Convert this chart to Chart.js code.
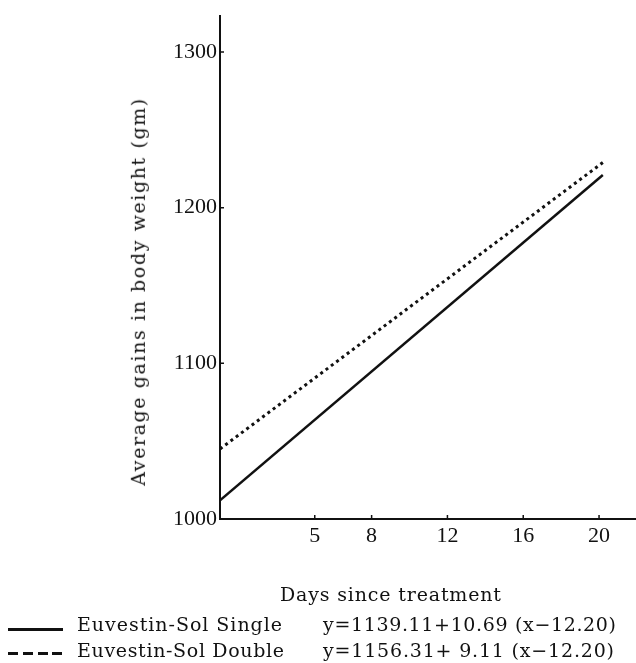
<!DOCTYPE html>
<html><head><meta charset="utf-8">
<script src="https://cdn.jsdelivr.net/npm/chart.js@4"></script>
<style>
body{margin:0;background:#fff}
#wrap{position:relative;width:636px;height:663px}
canvas{position:absolute;left:0;top:0}
.t{position:absolute;font-family:"DejaVu Serif",serif;font-size:19px;color:#111;white-space:nowrap;line-height:1}
.mk{position:absolute;height:3px}
</style></head><body>
<div id="wrap">
<canvas id="c" width="636" height="663"></canvas>
<div class="t" id="yt">Average gains in body weight (gm)</div>
<div class="t" id="xt">Days since treatment</div>
<div class="mk" style="left:8px;top:628px;width:55px;background:#111"></div>
<div class="mk" style="left:8px;top:652px;width:55px;background:repeating-linear-gradient(to right,#111 0 10px,transparent 10px 14.8px)"></div>
<div class="t" id="n1">Euvestin-Sol Single</div>
<div class="t" id="e1">y=1139.11+10.69 (x−12.20)</div>
<div class="t" id="n2">Euvestin-Sol Double</div>
<div class="t" id="e2">y=1156.31+ 9.11 (x−12.20)</div>
</div>
<script>
const xTicks = [5, 8, 12, 16, 20];
const yTicks = [1000, 1100, 1200, 1300];
const days = [0, 20.2];
const singleVals = [1012, 1221];
const doubleVals = [1045, 1229];

const TFONT = '"DejaVu Serif", serif';
const FONT = '"Liberation Serif", serif';
const mctx = document.createElement('canvas').getContext('2d');
function fit(id, size, x0, x1, midY, rotate) {
  const el = document.getElementById(id);
  el.style.fontSize = size + 'px';
  mctx.font = size + 'px ' + TFONT;
  const txt = el.textContent;
  const w = mctx.measureText(txt).width;
  const target = x1 - x0;
  const ls = (target - w) / (txt.length - 1);
  el.style.letterSpacing = ls + 'px';
  const h = size;
  if (!rotate) {
    el.style.left = x0 + 'px';
    el.style.top = (midY - h * 0.55) + 'px';
  } else {
    const cx = midY, cy = (x0 + x1) / 2;
    const fullW = w + ls * txt.length;
    el.style.left = (cx - fullW / 2) + 'px';
    el.style.top = (cy - h * 0.55) + 'px';
    el.style.transformOrigin = (fullW / 2) + 'px ' + (h * 0.55) + 'px';
    el.style.transform = 'rotate(-90deg)';
  }
}
fit('xt', 19, 280, 501, 595);
fit('n1', 19, 77, 282, 625);
fit('e1', 19, 323, 616, 625);
fit('n2', 19, 77, 284, 651);
fit('e2', 19, 323, 614, 651);
fit('yt', 19, 98, 485, 139, true);

const innerTicks = {
  id: 'innerTicks',
  afterDraw(chart) {
    const {ctx, chartArea, scales} = chart;
    ctx.save();
    ctx.strokeStyle = '#111';
    ctx.lineWidth = 1.5;
    ctx.beginPath();
    xTicks.forEach(v => {
      const p = scales.x.getPixelForValue(v);
      ctx.moveTo(p, chartArea.bottom);
      ctx.lineTo(p, chartArea.bottom - 4);
    });
    yTicks.forEach(v => {
      const p = scales.y.getPixelForValue(v);
      ctx.moveTo(chartArea.left, p);
      ctx.lineTo(chartArea.left + 4, p);
    });
    ctx.stroke();
    ctx.restore();
  }
};

new Chart(document.getElementById('c'), {
  type: 'line',
  data: {
    datasets: [
      {
        label: 'Euvestin-Sol Single',
        data: days.map((d, i) => ({x: d, y: singleVals[i]})),
        borderColor: '#111', borderWidth: 2.5, pointRadius: 0, fill: false, tension: 0
      },
      {
        label: 'Euvestin-Sol Double',
        data: days.map((d, i) => ({x: d, y: doubleVals[i]})),
        borderColor: '#111', borderWidth: 3, borderDash: [3, 3.6], pointRadius: 0, fill: false, tension: 0
      }
    ]
  },
  options: {
    responsive: false,
    animation: false,
    layout: {padding: {top: 12, left: 0, right: 0, bottom: 0}},
    plugins: {legend: {display: false}, tooltip: {enabled: false}},
    scales: {
      x: {
        type: 'linear', min: 0, max: 21.95,
        afterBuildTicks: s => { s.ticks = xTicks.map(v => ({value: v})); },
        afterFit: s => { s.height = 144; },
        grid: {display: true, drawOnChartArea: false, drawTicks: false},
        border: {display: true, color: '#111', width: 2},
        ticks: {font: {family: FONT, size: 22}, color: '#111', padding: 4, maxRotation: 0, autoSkip: false,
                callback: v => String(v)}
      },
      y: {
        type: 'linear', min: 1000, max: 1323,
        afterBuildTicks: s => { s.ticks = yTicks.map(v => ({value: v})); },
        afterFit: s => { s.width = 220; },
        grid: {display: true, drawOnChartArea: false, drawTicks: false},
        border: {display: true, color: '#111', width: 2},
        ticks: {font: {family: FONT, size: 22}, color: '#111', padding: 3, autoSkip: false,
                callback: v => String(v)}
      }
    }
  },
  plugins: [innerTicks]
});
</script>
</body></html>
